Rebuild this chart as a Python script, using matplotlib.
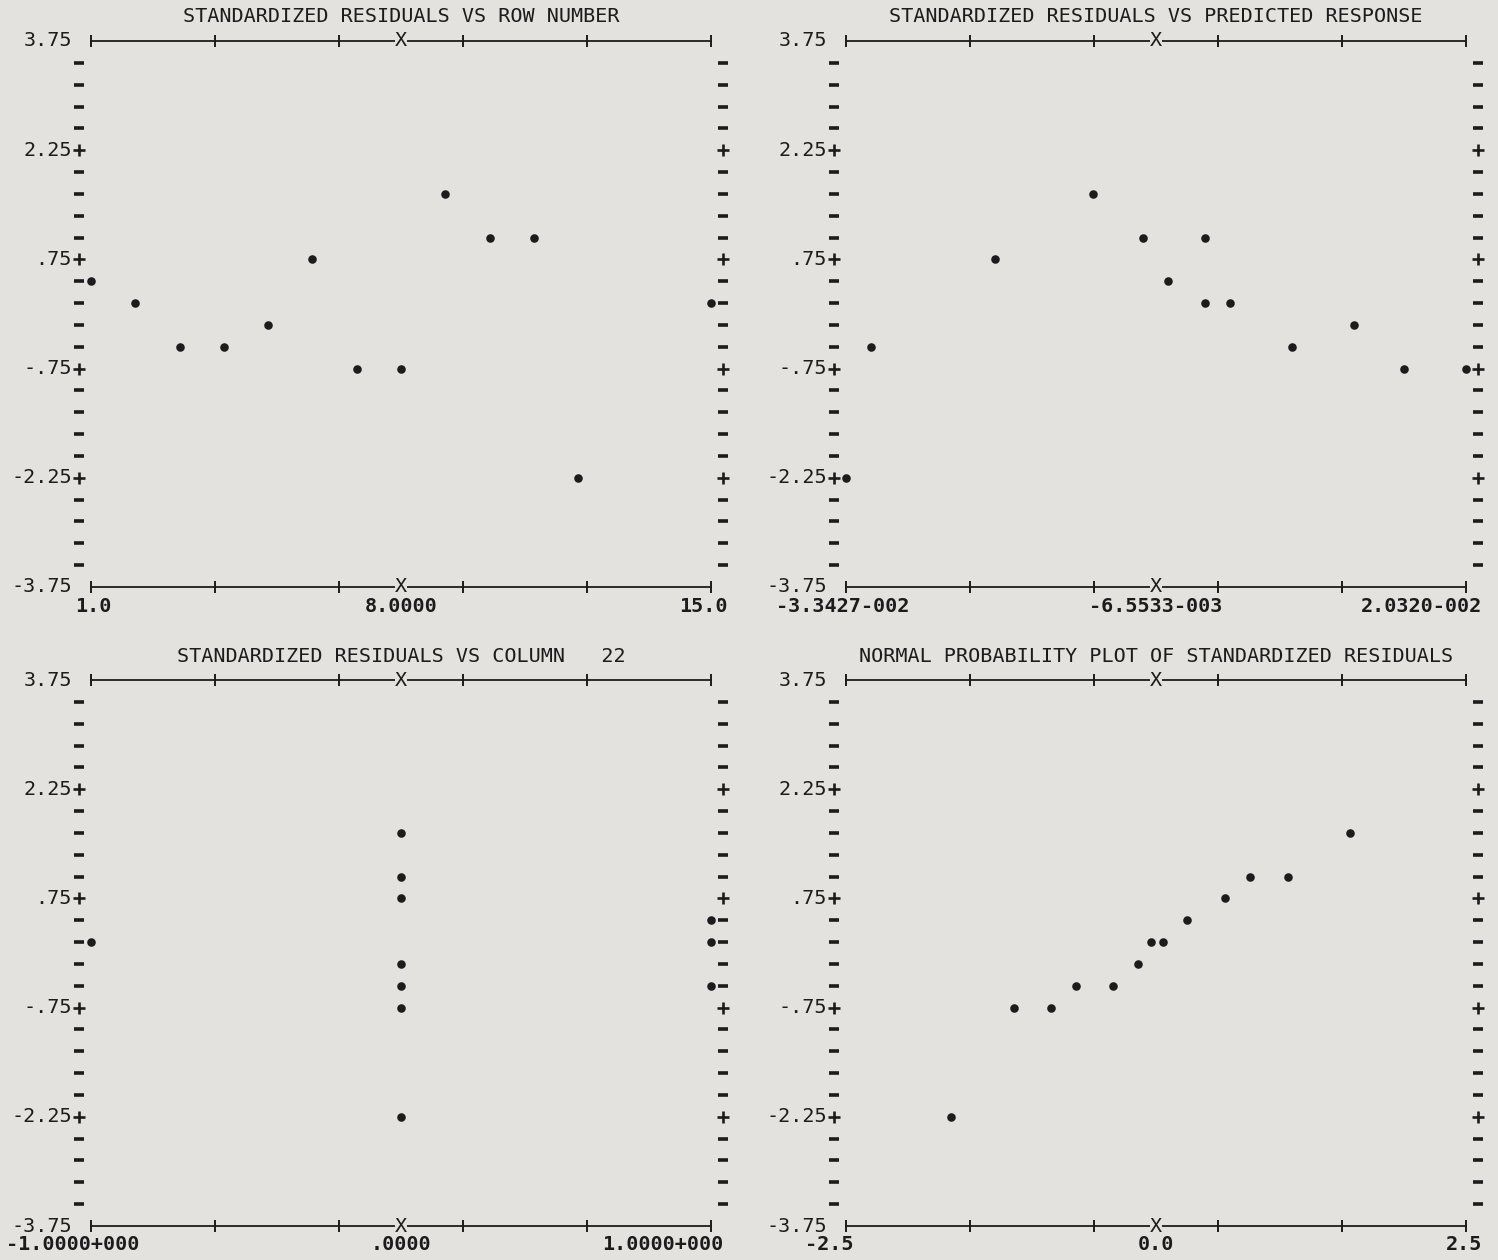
import matplotlib.pyplot as plt
from matplotlib.transforms import offset_copy

BG = '#e4e2de'
INK = '#1c1c1c'
FONT = 'DejaVu Sans Mono'

# standardized residuals vs row number
row_number = [1, 2, 3, 4, 5, 6, 7, 8, 9, 10, 11, 12, 15]
row_resid = [0.45, 0.15, -0.45, -0.45, -0.15, 0.75, -0.75, -0.75, 1.65, 1.05, 1.05, -2.25, 0.15]

# standardized residuals vs predicted response
pred_response = [-0.033427, -0.03126, -0.02051, -0.012015, -0.007681, -0.005514, -0.002306,
                 -0.002306, -0.000139, 0.005236, 0.010611, 0.014945, 0.020320]
pred_resid = [-2.25, -0.45, 0.75, 1.65, 1.05, 0.45, 1.05, 0.15, 0.15, -0.45, -0.15, -0.75, -0.75]

# standardized residuals vs column 22
col22 = [-1, 0, 0, 0, 0, 0, 0, 0, 1, 1, 1]
col22_resid = [0.15, 1.65, 1.05, 0.75, -0.15, -0.45, -0.75, -2.25, 0.45, 0.15, -0.45]

# normal probability plot
normal_q = [-1.653, -1.145, -0.847, -0.645, -0.347, -0.145, -0.04, 0.056, 0.25, 0.556, 0.758, 1.065, 1.565]
sorted_resid = [-2.25, -0.75, -0.75, -0.45, -0.45, -0.15, 0.15, 0.15, 0.45, 0.75, 1.05, 1.05, 1.65]

y_ticks = [3.75, 2.25, 0.75, -0.75, -2.25, -3.75]
y_labels = ['3.75', '2.25', '.75', '-.75', '-2.25', '-3.75']

fig = plt.figure(figsize=(14.98, 12.6), dpi=100, facecolor=BG)


def printer_panel(rect, title, x, y, xlim, xlabels, left_off, right_off):
    ax = fig.add_axes(rect)
    ax.set_facecolor(BG)
    x0, x1 = xlim
    ax.set_xlim(x0, x1)
    ax.set_ylim(-3.75, 3.75)
    ax.axis('off')
    xc = (x0 + x1) / 2
    txt = dict(family=FONT, fontsize=14.5, color=INK)

    # top and bottom border lines
    ticks = [x0 + f * (x1 - x0) for f in (0, .2, .4, .6, .8, 1)]
    for yy in (3.75, -3.75):
        ax.plot([x0, x1], [yy, yy], color=INK, lw=1.3, clip_on=False)
        ax.plot(ticks, [yy] * len(ticks), ls='none', marker='|', ms=8, mew=1.4,
                color=INK, clip_on=False)
        ax.text(xc, yy, 'X', ha='center', va='center', zorder=4,
                bbox=dict(facecolor=BG, edgecolor='none', pad=0.3), **txt)

    # side characters
    rows = [3.75 - 0.3 * k for k in range(1, 25)]
    dash_rows = [r for k, r in enumerate(rows, 1) if k % 5]
    plus_rows = [r for k, r in enumerate(rows, 1) if k % 5 == 0]
    for side, dx in ((0, -12), (1, 12)):
        tr = offset_copy(ax.get_yaxis_transform(), fig=fig, x=dx, y=0, units='dots')
        ax.plot([side] * len(dash_rows), dash_rows, ls='none', marker='_', ms=6.5, mew=2.6,
                color=INK, transform=tr, clip_on=False)
        ax.plot([side] * len(plus_rows), plus_rows, ls='none', marker='+', ms=8, mew=1.9,
                color=INK, transform=tr, clip_on=False)

    # y labels
    trl = offset_copy(ax.get_yaxis_transform(), fig=fig, x=-19, y=0, units='dots')
    for v, lab in zip(y_ticks, y_labels):
        ax.text(0, v, lab, ha='right', va='center', transform=trl, **txt)

    # x labels
    for xa, lab, ha, off in ((0, xlabels[0], 'left', left_off), (0.5, xlabels[1], 'center', 0),
                             (1, xlabels[2], 'right', right_off)):
        tr = offset_copy(ax.transAxes, fig=fig, x=off, y=-19, units='dots')
        ax.text(xa, 0, lab, ha=ha, va='center', transform=tr, fontweight='bold', **txt)

    # title
    trt = offset_copy(ax.transAxes, fig=fig, x=0, y=24, units='dots')
    ax.text(0.5, 1, title, ha='center', va='center', transform=trt, **txt)

    ax.scatter(x, y, s=38, color=INK, zorder=5, clip_on=False, linewidths=0)
    return ax


left_x, right_x, w = 91 / 1498, 846 / 1498, 620 / 1498
top_y, bot_y, h = 1 - 587 / 1260, 1 - 1226 / 1260, 546 / 1260

printer_panel([left_x, top_y, w, h], 'STANDARDIZED RESIDUALS VS ROW NUMBER',
              row_number, row_resid, (1, 15), ['1.0', '8.0000', '15.0'], -16, 17)
printer_panel([right_x, top_y, w, h], 'STANDARDIZED RESIDUALS VS PREDICTED RESPONSE',
              pred_response, pred_resid, (-3.3427e-2, 2.0320e-2),
              ['-3.3427-002', '-6.5533-003', '2.0320-002'], -70, 16)
printer_panel([left_x, bot_y, w, h], 'STANDARDIZED RESIDUALS VS COLUMN   22',
              col22, col22_resid, (-1, 1), ['-1.0000+000', '.0000', '1.0000+000'], -85, 12)
printer_panel([right_x, bot_y, w, h], 'NORMAL PROBABILITY PLOT OF STANDARDIZED RESIDUALS',
              normal_q, sorted_resid, (-2.5, 2.5), ['-2.5', '0.0', '2.5'], -41, 16)

fig.savefig('out.png', dpi=100, facecolor=BG)
